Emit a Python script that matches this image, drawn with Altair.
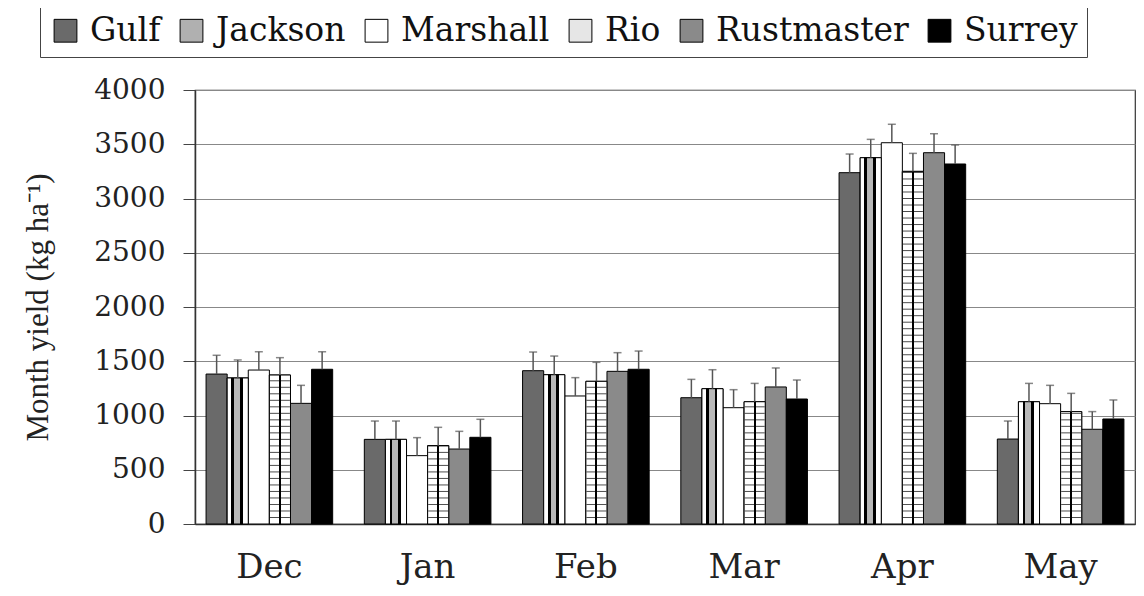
import altair as alt
import pandas as pd

months = ["Dec", "Jan", "Feb", "Mar", "Apr", "May"]
varieties = ["Gulf", "Jackson", "Marshall", "Rio", "Rustmaster", "Surrey"]

# mean monthly yield (kg/ha) per variety, in month order
gulf = [1382, 780, 1413, 1164, 3238, 783]
jackson = [1346, 780, 1376, 1247, 3376, 1127]
marshall = [1419, 630, 1180, 1072, 3514, 1109]
rio = [1373, 722, 1315, 1127, 3250, 1036]
rustmaster = [1112, 691, 1407, 1263, 3422, 873]
surrey = [1426, 799, 1426, 1152, 3318, 968]

# upper end of the error bars
gulf_hi = [1555, 949, 1585, 1333, 3410, 949]
jackson_hi = [1512, 949, 1548, 1422, 3545, 1296]
marshall_hi = [1588, 796, 1349, 1238, 3684, 1278]
rio_hi = [1533, 891, 1490, 1296, 3416, 1204]
rustmaster_hi = [1278, 854, 1579, 1438, 3597, 1036]
surrey_hi = [1588, 965, 1594, 1327, 3493, 1143]

values = [gulf, jackson, marshall, rio, rustmaster, surrey]
uppers = [gulf_hi, jackson_hi, marshall_hi, rio_hi, rustmaster_hi, surrey_hi]

rows = []
for v, vals, his in zip(varieties, values, uppers):
    for m, val, hi in zip(months, vals, his):
        rows.append({"month": m, "variety": v, "value": val, "upper": hi})
df = pd.DataFrame(rows)

FONT = "DejaVu Serif"
TFONT = "Liberation Serif"
fills = ["#6a6a6a", "#b0b0b0", "#ffffff", "#e6e6e6", "#8a8a8a", "#000000"]


def stripes(stops, x2=1, y2=0):
    gs = []
    for off, col in stops:
        gs.append(alt.GradientStop(offset=off, color=col))
    return alt.LinearGradient(gradient="linear", stops=gs, x1=0, y1=0, x2=x2, y2=y2)


jackson_fill = stripes([
    (0, "white"), (0.2, "white"), (0.2, "black"), (0.33, "black"),
    (0.33, "#b8b8b8"), (0.6, "#b8b8b8"), (0.6, "black"), (0.73, "black"),
    (0.73, "white"), (1, "white"),
])
rio_fill = stripes([
    (0, "white"), (0.45, "white"), (0.45, "black"), (0.55, "black"),
    (0.55, "white"), (1, "white"),
])

xenc = alt.X(
    "month:N",
    sort=months,
    scale=alt.Scale(paddingInner=0.2, paddingOuter=0.07),
    axis=alt.Axis(
        title=None, labelAngle=0, labelFont=FONT, labelFontSize=34,
        labelColor="#222", labelPadding=26, ticks=False,
        domainColor="#333", domainWidth=1.5, grid=False,
    ),
)
xoff = alt.XOffset("variety:N", sort=varieties,
                   scale=alt.Scale(domain=varieties, paddingInner=0, paddingOuter=0))
yenc = alt.Y(
    "value:Q",
    scale=alt.Scale(domain=[0, 4000], nice=False),
    axis=alt.Axis(
        title="Month yield (kg ha⁻¹)", titleFont=TFONT, titleFontSize=31,
        titleFontWeight="normal", titleColor="#222", titleAngle=-90,
        titleX=-157, titleY=217, titleAlign="center", titleBaseline="middle",
        values=list(range(0, 4001, 500)), format="d",
        labelFont=FONT, labelFontSize=28,
        labelColor="#222", labelPadding=18, tickSize=12, tickColor="#444",
        domainColor="#333", domainWidth=1.5, gridColor="#888", gridWidth=1.2,
    ),
)

base = alt.Chart(df)

bars = base.mark_bar(stroke="black", strokeWidth=1).encode(
    x=xenc, xOffset=xoff, y=yenc,
    color=alt.Color(
        "variety:N", sort=varieties,
        scale=alt.Scale(domain=varieties, range=fills),
        legend=alt.Legend(
            title=None, orient="none", direction="horizontal",
            legendX=-155, legendY=-85, symbolType="square", symbolSize=520,
            symbolStrokeColor="black", symbolStrokeWidth=1,
            labelFont=FONT, labelFontSize=33, labelColor="#111",
            labelOffset=8, columnPadding=14, padding=9,
            strokeColor="#444", fillColor="white", labelLimit=400,
        ),
    ),
)

jack = base.transform_filter(alt.datum.variety == "Jackson").mark_bar(
    fill=jackson_fill, stroke="black", strokeWidth=1
).encode(x=xenc, xOffset=xoff, y=yenc)

riob = base.transform_filter(alt.datum.variety == "Rio").mark_bar(
    fill=rio_fill, stroke="black", strokeWidth=1
).encode(x=xenc, xOffset=xoff, y=yenc)

rio_lines = (
    base.transform_filter(alt.datum.variety == "Rio")
    .transform_calculate(level="sequence(60, datum.value, 60)")
    .transform_flatten(["level"])
    .mark_tick(color="black", thickness=1, size=20)
    .encode(x=xenc, xOffset=xoff, y=alt.Y("level:Q"))
)

err = base.mark_rule(color="#555", strokeWidth=1.5).encode(
    x=xenc, xOffset=xoff, y=alt.Y("value:Q"), y2="upper:Q"
)
cap = base.mark_tick(color="#555", thickness=1.5, size=8).encode(
    x=xenc, xOffset=xoff, y=alt.Y("upper:Q")
)

chart = (
    alt.layer(bars, jack, riob, rio_lines, err, cap)
    .properties(
        width=940, height=434,
        autosize=alt.AutoSizeParams(type="none"),
        padding={"left": 187, "top": 82, "right": 1, "bottom": 64},
    )
    .configure_view(stroke="#333", strokeWidth=1.2)
)

chart.save("out.html", embed_options={"renderer": "svg", "actions": False})
